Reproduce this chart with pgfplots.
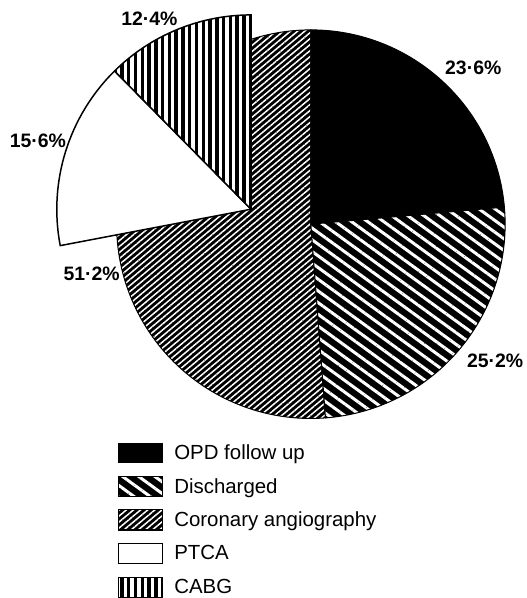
\documentclass[border=0pt]{standalone}
\usepackage{fontspec}
\setmainfont{Liberation Sans}
\usepackage{pgfplots}
\usepackage{pgfplotstable}
\pgfplotsset{compat=1.18}
\usetikzlibrary{patterns.meta}

\pgfplotstableread{
label value
OPD 23.6
Discharged 25.2
Coronary 51.2
PTCA 15.6
CABG 12.4
}\piedata

\tikzset{
  opd/.style={fill=black},
  dis/.style={preaction={fill=black}, pattern={Lines[angle=-36,distance=9.5pt,line width=3pt]}, pattern color=white},
  cor/.style={preaction={fill=black}, pattern={Lines[angle=40,distance=4.6pt,line width=1.5pt]}, pattern color=white},
  ptca/.style={fill=white},
  cabg/.style={preaction={fill=white}, pattern={Lines[angle=90,distance=6.8pt,line width=3.5pt]}, pattern color=black},
  gap/.style={draw=none, fill=none},
}

\begin{document}
\begin{tikzpicture}
\pgfplotstablegetelem{0}{value}\of\piedata \let\vOPD\pgfplotsretval
\pgfplotstablegetelem{1}{value}\of\piedata \let\vDIS\pgfplotsretval
\pgfplotstablegetelem{2}{value}\of\piedata \let\vCOR\pgfplotsretval
\pgfplotstablegetelem{3}{value}\of\piedata \let\vPTCA\pgfplotsretval
\pgfplotstablegetelem{4}{value}\of\piedata \let\vCABG\pgfplotsretval
\pgfmathsetmacro\aA{90}
\pgfmathsetmacro\aB{90-3.6*\vOPD}
\pgfmathsetmacro\aC{\aB-3.6*\vDIS}
\pgfmathsetmacro\aD{\aC-3.6*\vCOR}
\pgfmathsetmacro\aE{90+3.6*\vCABG}
\pgfmathsetmacro\aF{\aE+3.6*\vPTCA}
\def\R{195pt}
\begin{axis}[
  x=1pt, y=1pt,
  xmin=-312, xmax=211, ymin=-373, ymax=225,
  hide axis, clip=false,
  legend style={at={(axis cs:-194,-219)}, anchor=north west, draw=none, fill=none,
    font=\fontsize{20.5}{24}\selectfont, row sep=12.5pt, cells={anchor=west},
    inner sep=0pt},
  legend cell align=left,
]
\path (axis cs:-312,-373) rectangle (axis cs:211,225);
% main pie
\filldraw[cor, draw=black, line width=1pt] (axis cs:0,0) -- ++(\aC:\R) arc[start angle=\aC, end angle=\aD, radius=\R] -- cycle;
\filldraw[opd, draw=black, line width=1pt] (axis cs:0,0) -- ++(\aA:\R) arc[start angle=\aA, end angle=\aB, radius=\R] -- cycle;
\filldraw[dis, draw=black, line width=1pt] (axis cs:0,0) -- ++(\aB:\R) arc[start angle=\aB, end angle=\aC, radius=\R] -- cycle;
% exploded sub-slices of coronary angiography
\filldraw[ptca, draw=black, line width=1.5pt] (axis cs:-60,15) -- ++(\aE:\R) arc[start angle=\aE, end angle=\aF, radius=\R] -- cycle;
\filldraw[cabg, draw=black, line width=1.5pt] (axis cs:-60,15) -- ++(\aA:\R) arc[start angle=\aA, end angle=\aE, radius=\R] -- cycle;
% labels
\node[font=\fontsize{19.5}{22}\selectfont\bfseries] at (axis cs:163,157) {23·6\%};
\node[font=\fontsize{19.5}{22}\selectfont\bfseries] at (axis cs:185,-137) {25·2\%};
\node[font=\fontsize{19.5}{22}\selectfont\bfseries] at (axis cs:-220,-50) {51·2\%};
\node[font=\fontsize{19.5}{22}\selectfont\bfseries] at (axis cs:-274,84) {15·6\%};
\node[font=\fontsize{19.5}{22}\selectfont\bfseries] at (axis cs:-162,206) {12·4\%};
% legend
\addlegendimage{legend image code/.code={\filldraw[opd,draw=black,line width=1pt] (0pt,-10pt) rectangle (44pt,10pt); \path[gap] (44pt,0pt) rectangle (54pt,0.1pt);}}
\addlegendentry{OPD follow up}
\addlegendimage{legend image code/.code={\filldraw[dis,draw=black,line width=1pt] (0pt,-10pt) rectangle (44pt,10pt); \path[gap] (44pt,0pt) rectangle (54pt,0.1pt);}}
\addlegendentry{Discharged}
\addlegendimage{legend image code/.code={\filldraw[cor,draw=black,line width=1pt] (0pt,-10pt) rectangle (44pt,10pt); \path[gap] (44pt,0pt) rectangle (54pt,0.1pt);}}
\addlegendentry{Coronary angiography}
\addlegendimage{legend image code/.code={\filldraw[ptca,draw=black,line width=1.5pt] (0pt,-10pt) rectangle (44pt,10pt); \path[gap] (44pt,0pt) rectangle (54pt,0.1pt);}}
\addlegendentry{PTCA}
\addlegendimage{legend image code/.code={\filldraw[cabg,draw=black,line width=1.5pt] (0pt,-10pt) rectangle (44pt,10pt); \path[gap] (44pt,0pt) rectangle (54pt,0.1pt);}}
\addlegendentry{CABG}
\end{axis}
\end{tikzpicture}
\end{document}
